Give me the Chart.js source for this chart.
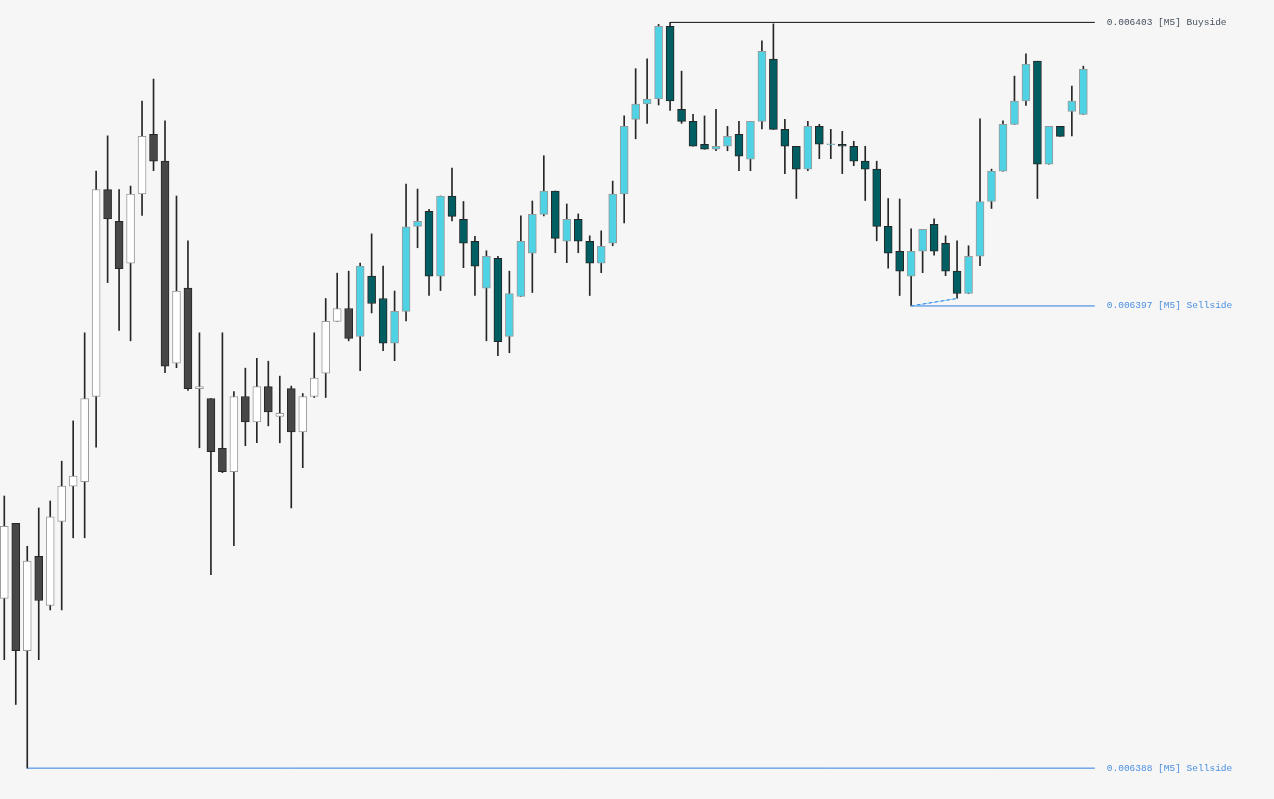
<!DOCTYPE html>
<html>
<head>
<meta charset="utf-8">
<script src="https://cdn.jsdelivr.net/npm/chart.js@4/dist/chart.umd.min.js"></script>
<style>
  html,body{margin:0;padding:0;background:#f6f6f6;overflow:hidden;}
  canvas{display:block;}
</style>
</head>
<body>
<canvas id="candles" width="1274" height="799"></canvas>
<script>
// M5 candles, oldest first
const opens=[
  0.00639141,0.00639292,0.00639036,0.00639226,0.00639127,0.00639296,0.00639367,0.00639376,0.00639547,0.00639963,
  0.00639899,0.00639815,0.00639954,0.00640074,0.00640020,0.00639614,0.00639765,0.00639563,0.00639543,0.00639443,
  0.00639396,0.00639547,0.00639496,0.00639567,0.00639507,0.00639563,0.00639476,0.00639547,0.00639594,0.00639698,
  0.00639724,0.00639668,0.00639789,0.00639744,0.00639654,0.00639718,0.00639889,0.00639919,0.00639789,0.00639950,
  0.00639903,0.00639859,0.00639765,0.00639825,0.00639668,0.00639748,0.00639835,0.00639913,0.00639960,0.00639859,
  0.00639903,0.00639859,0.00639815,0.00639855,0.00639954,0.00640104,0.00640135,0.00640145,0.00640291,0.00640124,
  0.00640100,0.00640054,0.00640044,0.00640050,0.00640074,0.00640024,0.00640100,0.00640225,0.00640084,0.00640050,
  0.00640004,0.00640090,0.00640053,0.00640054,0.00640050,0.00640020,0.00640004,0.00639889,0.00639839,0.00639789,
  0.00639839,0.00639893,0.00639855,0.00639799,0.00639754,0.00639829,0.00639939,0.00640000,0.00640094,0.00640141,
  0.00640221,0.00640014,0.00640090,0.00640120,0.00640114
];
const highs=[
  0.00639347,0.00639292,0.00639246,0.00639323,0.00639337,0.00639417,0.00639498,0.00639675,0.00640000,0.00640071,
  0.00639963,0.00639970,0.00640141,0.00640185,0.00640101,0.00639950,0.00639860,0.00639675,0.00639543,0.00639675,
  0.00639557,0.00639604,0.00639624,0.00639618,0.00639588,0.00639568,0.00639553,0.00639675,0.00639744,0.00639795,
  0.00639799,0.00639815,0.00639874,0.00639809,0.00639759,0.00639974,0.00639964,0.00639923,0.00639950,0.00640006,
  0.00639939,0.00639869,0.00639840,0.00639829,0.00639799,0.00639910,0.00639940,0.00640031,0.00639960,0.00639934,
  0.00639914,0.00639870,0.00639880,0.00639980,0.00640111,0.00640206,0.00640226,0.00640295,0.00640299,0.00640201,
  0.00640114,0.00640111,0.00640124,0.00640090,0.00640100,0.00640100,0.00640262,0.00640296,0.00640104,0.00640050,
  0.00640100,0.00640094,0.00640084,0.00640080,0.00640060,0.00640050,0.00640020,0.00639945,0.00639944,0.00639884,
  0.00639883,0.00639904,0.00639870,0.00639860,0.00639850,0.00640105,0.00640004,0.00640101,0.00640191,0.00640236,
  0.00640221,0.00640090,0.00640090,0.00640171,0.00640211
];
const lows=[
  0.00639018,0.00638928,0.00638800,0.00639018,0.00639118,0.00639118,0.00639263,0.00639263,0.00639445,0.00639776,
  0.00639680,0.00639659,0.00639911,0.00640001,0.00639595,0.00639605,0.00639559,0.00639444,0.00639189,0.00639394,
  0.00639247,0.00639448,0.00639454,0.00639488,0.00639454,0.00639323,0.00639404,0.00639545,0.00639545,0.00639698,
  0.00639659,0.00639599,0.00639715,0.00639639,0.00639619,0.00639699,0.00639846,0.00639750,0.00639760,0.00639900,
  0.00639806,0.00639750,0.00639659,0.00639629,0.00639635,0.00639748,0.00639756,0.00639910,0.00639836,0.00639816,
  0.00639836,0.00639750,0.00639796,0.00639850,0.00639896,0.00640065,0.00640096,0.00640133,0.00640122,0.00640096,
  0.00640050,0.00640044,0.00640041,0.00640041,0.00640001,0.00640001,0.00640085,0.00640084,0.00639995,0.00639945,
  0.00640001,0.00640025,0.00640025,0.00639995,0.00640011,0.00639941,0.00639860,0.00639805,0.00639750,0.00639729,
  0.00639796,0.00639831,0.00639790,0.00639744,0.00639754,0.00639810,0.00639925,0.00640000,0.00640094,0.00640132,
  0.00639945,0.00640014,0.00640070,0.00640071,0.00640114
];
const closes=[
  0.00639286,0.00639036,0.00639216,0.00639137,0.00639305,0.00639367,0.00639387,0.00639543,0.00639963,0.00639904,
  0.00639804,0.00639954,0.00640070,0.00640020,0.00639608,0.00639759,0.00639563,0.00639567,0.00639436,0.00639396,
  0.00639547,0.00639496,0.00639567,0.00639516,0.00639513,0.00639476,0.00639547,0.00639584,0.00639698,0.00639724,
  0.00639664,0.00639809,0.00639734,0.00639654,0.00639718,0.00639888,0.00639899,0.00639789,0.00639950,0.00639909,
  0.00639855,0.00639809,0.00639829,0.00639657,0.00639754,0.00639859,0.00639913,0.00639960,0.00639865,0.00639903,
  0.00639859,0.00639815,0.00639849,0.00639954,0.00640090,0.00640135,0.00640145,0.00640291,0.00640141,0.00640100,
  0.00640050,0.00640044,0.00640050,0.00640070,0.00640030,0.00640100,0.00640241,0.00640084,0.00640050,0.00640004,
  0.00640090,0.00640054,0.00640054,0.00640050,0.00640020,0.00640004,0.00639889,0.00639835,0.00639799,0.00639839,
  0.00639883,0.00639839,0.00639799,0.00639754,0.00639829,0.00639939,0.00640000,0.00640094,0.00640141,0.00640215,
  0.00640014,0.00640090,0.00640070,0.00640141,0.00640205
];

// liquidity levels: price, first candle, name
const levelPrices=[0.00640299,0.00639729,0.00638800];
const levelFrom=[58,79,2];
const levelNames=['Buyside','Sellside','Sellside'];
const levelTf='[M5]';
const levelTo=95;
// sweep line between two lows
const sweepFrom=79, sweepTo=83;

const greyUntil=31; // older candles drawn in grey tones
const isBull=i=>closes[i]>=opens[i];
const bodyFill=opens.map((o,i)=>i<greyUntil?(isBull(i)?'#ffffff':'#474747'):(isBull(i)?'#4fd2e4':'#005e62'));
const bodyLine=opens.map((o,i)=>isBull(i)?'#9a9a9a':'#262626');

const bodies=opens.map((o,i)=>({x:i,y:[o,closes[i]]}));
const wicks=opens.map((o,i)=>({x:i,y:[lows[i],highs[i]]}));
const levelColors=['#111111','#2f7de1','#2f7de1'];
const textColors=['#45505c','#4a8fe0','#4a8fe0'];

const levelSets=levelPrices.map((p,k)=>({
  type:'line',
  data:[{x:levelFrom[k],y:p},{x:levelTo,y:p}],
  borderColor:levelColors[k],borderWidth:1,pointRadius:0,order:-1
}));
// little drop from candle 2 is its own wick; sweep line
const sweepPts=[{x:sweepFrom,y:lows[sweepFrom]},{x:sweepTo,y:lows[sweepTo]}];

const levelLabels={
  id:'levelLabels',
  afterDatasetsDraw(chart){
    const {ctx,scales:{x,y}}=chart;
    ctx.save();
    ctx.font='9.5px "Liberation Mono", "DejaVu Sans Mono", monospace';
    ctx.textBaseline='middle';
    levelPrices.forEach((p,k)=>{
      ctx.fillStyle=textColors[k];
      ctx.fillText(p.toFixed(6)+' '+levelTf+' '+levelNames[k],x.getPixelForValue(levelTo)+12,y.getPixelForValue(p));
    });
    ctx.restore();
  }
};

const ctx=document.getElementById('candles').getContext('2d');
new Chart(ctx,{
  type:'bar',
  data:{
    datasets:[
      {data:bodies,backgroundColor:bodyFill,borderColor:bodyLine,borderWidth:1,borderSkipped:false,
       barThickness:8,minBarLength:1,grouped:false,order:1},
      {data:wicks,backgroundColor:'#262626',borderWidth:0,barThickness:1,grouped:false,order:2},
      ...levelSets,
      {type:'line',data:sweepPts,borderColor:'#8fd0f5',borderWidth:1,pointRadius:0,order:-2},
      {type:'line',data:sweepPts,borderColor:'#2f7de1',borderWidth:1,borderDash:[3,3],pointRadius:0,order:-3}
    ]
  },
  options:{
    responsive:false,
    animation:false,
    layout:{padding:0},
    plugins:{legend:{display:false},tooltip:{enabled:false}},
    scales:{
      x:{type:'linear',display:false,offset:false,min:-0.3746,max:110.61},
      y:{type:'linear',display:false,min:0.00638738,max:0.00640344}
    }
  },
  plugins:[levelLabels]
});
</script>
</body>
</html>
